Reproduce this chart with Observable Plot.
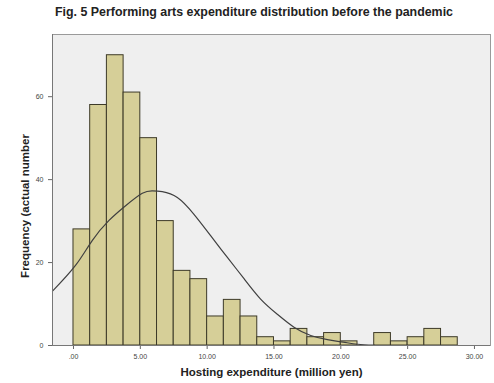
<!DOCTYPE html>
<html>
<head>
<meta charset="utf-8">
<script src="https://cdn.jsdelivr.net/npm/d3@7"></script>
<script src="https://cdn.jsdelivr.net/npm/@observablehq/plot@0.6"></script>
<style>
  html, body { margin: 0; padding: 0; background: #ffffff; }
  #wrap { position: relative; width: 494px; height: 383px; overflow: hidden; }
  #title { position: absolute; left: 0; width: 508px; top: 5px; text-align: center; white-space: nowrap;
    font-family: "Liberation Sans", Arial, sans-serif; font-weight: bold; font-size: 12.4px; color: #222; }
  #wrap svg { position: absolute; left: 0; top: 0; }
</style>
</head>
<body>
<div id="wrap">
  <div id="title">Fig. 5 Performing arts expenditure distribution before the pandemic</div>
</div>
<script>
// Histogram bins (million yen), bin width 1.25
const binStarts = [0, 1.25, 2.5, 3.75, 5, 6.25, 7.5, 8.75, 10, 11.25, 12.5, 13.75,
                   15, 16.25, 17.5, 18.75, 20, 21.25, 22.5, 23.75, 25, 26.25, 27.5];
const binEnds   = [1.25, 2.5, 3.75, 5, 6.25, 7.5, 8.75, 10, 11.25, 12.5, 13.75, 15,
                   16.25, 17.5, 18.75, 20, 21.25, 22.5, 23.75, 25, 26.25, 27.5, 28.75];
const counts    = [28, 58, 70, 61, 50, 30, 18, 16, 7, 11, 7, 2,
                   1, 4, 2, 3, 1, 0, 3, 1, 2, 4, 2];

// Fitted normal curve
const curveX = [-1.57, 0.15, 1.4, 2.64, 3.9, 5.15, 5.9, 6.64, 7.77, 9.0, 10.26, 11.5,
                12.76, 14.0, 15.26, 16.5, 17.75, 19.0, 20.2, 21.25, 22.5];
const curveY = [13.1, 19.3, 25.3, 30.1, 33.7, 36.7, 37.3, 37.1, 35.7, 31.7, 26.5, 21.3,
                16.1, 11.2, 7.5, 4.4, 2.4, 1.4, 0.8, 0.3, 0.1];

const xTicks = [0, 5, 10, 15, 20, 25, 30];
const xTickLabels = [".00", "5.00", "10.00", "15.00", "20.00", "25.00", "30.00"];
const yTicks = [0, 20, 40, 60];

const bars = binStarts.map((s, i) => ({x1: s, x2: binEnds[i], y: counts[i]}));
const curve = curveX.map((x, i) => ({x, y: curveY[i]}));

const chart = Plot.plot({
  width: 494,
  height: 383,
  marginTop: 34,
  marginBottom: 38,
  marginLeft: 52,
  marginRight: 4,
  style: {background: "transparent", fontFamily: "Liberation Sans, Arial, sans-serif"},
  x: {domain: [-1.57, 31.2]},
  y: {domain: [0, 75]},
  marks: [
    Plot.frame({fill: "#efefef", stroke: "#9a9a9a", strokeWidth: 1}),
    Plot.rectY(bars, {x1: "x1", x2: "x2", y: "y", fill: "#d6cf98", stroke: "#3d3a28", strokeWidth: 1}),
    Plot.line(curve, {x: "x", y: "y", curve: "natural", stroke: "#404040", strokeWidth: 1.2}),
    Plot.axisX({ticks: xTicks, tickFormat: d => xTickLabels[xTicks.indexOf(d)], tickSize: 4,
      fontSize: 7, color: "#444", stroke: "#666",
      label: "Hosting expenditure (million yen)", labelAnchor: "center", labelArrow: "none", labelOffset: 30}),
    Plot.axisY({ticks: yTicks, tickSize: 4, fontSize: 7, color: "#444", stroke: "#666",
      label: "Frequency (actual number", labelAnchor: "center", labelArrow: "none", labelOffset: 32}),
    Plot.ruleY([0], {stroke: "#777"}),
    Plot.ruleX([-1.57], {stroke: "#777"})
  ]
});
chart.querySelectorAll('[aria-label="x-axis label"] text, [aria-label="y-axis label"] text').forEach(t => {
  t.setAttribute("font-weight", "bold");
  t.setAttribute("font-size", "11.5");
  t.setAttribute("fill", "#222");
});
// shift the y-axis label slightly downward, as in the reference
const yl = chart.querySelector('[aria-label="y-axis label"] text');
if (yl) {
  const tr = yl.getAttribute("transform") || "";
  const m = tr.match(/translate\(([-\d.]+),([-\d.]+)\)/);
  if (m) yl.setAttribute("transform", tr.replace(m[0], `translate(${m[1]},${+m[2] + 16})`));
}
document.getElementById("wrap").appendChild(chart);
</script>
</body>
</html>
